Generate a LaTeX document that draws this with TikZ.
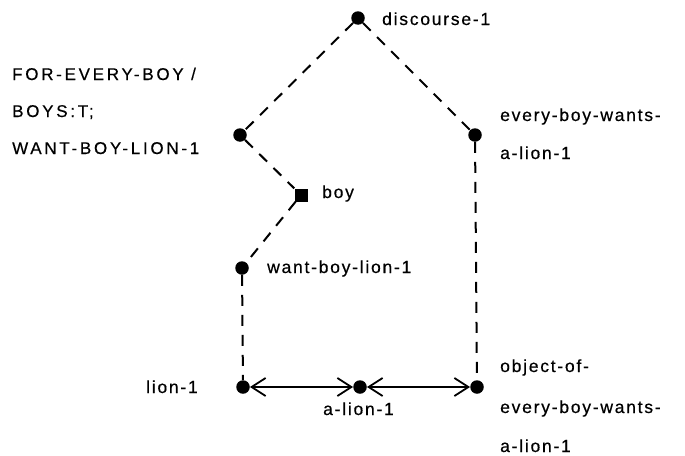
\documentclass[tikz,border=0pt]{standalone}
\usepackage{fontspec}
\setmainfont{Liberation Sans}[LetterSpace=10,FakeBold=0.5]
\newfontfamily\capsfont{Liberation Sans}[LetterSpace=16,FakeBold=0.5]
\usetikzlibrary{arrows.meta}
\begin{document}
\begin{tikzpicture}[x=1pt,y=-1pt,
  dot/.style={circle,fill=black,inner sep=0pt,minimum size=13.5pt},
  sq/.style={rectangle,fill=black,inner sep=0pt,minimum size=13pt},
  lbl/.style={anchor=base west,inner sep=0pt,font=\fontsize{17.5}{17.5}\selectfont},
  clbl/.style={lbl,font=\capsfont\fontsize{17}{17}\selectfont},
  dsh/.style={line width=2pt,dash pattern=on 11pt off 9pt},
  arr/.style={line width=1.4pt,{Straight Barb[length=14pt,width=18pt,line width=1.8pt]}-{Straight Barb[length=14pt,width=18pt,line width=1.8pt]}}
]
\useasboundingbox (0,0) rectangle (685,455);
\node[dot] (disc) at (358,18) {};
\node[dot] (left) at (240,135) {};
\node[dot] (right) at (475,135) {};
\node[sq] (boy) at (301,195) {};
\node[dot] (want) at (242,268) {};
\node[dot] (lion) at (243,387) {};
\node[dot] (alion) at (360,387) {};
\node[dot] (obj) at (477,387) {};

\node[lbl] (tdisc) at (382,25) {discourse-1};
\node[clbl] (t1) at (12,80) {FOR-EVERY-BOY /};
\node[clbl] (t2) at (12,117) {BOYS:T;};
\node[clbl] (t3) at (12,154) {WANT-BOY-LION-1};
\node[lbl] (tr1) at (500,121) {every-boy-wants-};
\node[lbl] (tr2) at (500,159) {a-lion-1};
\node[lbl] (tboy) at (322,198) {boy};
\node[lbl] (twant) at (267,273) {want-boy-lion-1};
\node[lbl] (tlion) at (146,393) {lion-1};
\node[lbl] (talion) at (323,415) {a-lion-1};
\node[lbl] (to1) at (500,372) {object-of-};
\node[lbl] (to2) at (500,413) {every-boy-wants-};
\node[lbl] (to3) at (500,452) {a-lion-1};

\draw[dsh] (disc) -- (left);
\draw[dsh] (disc) -- (right);
\draw[dsh] (left) -- (boy);
\draw[dsh] (boy) -- (want);
\draw[dsh] (want) -- (lion);
\draw[dsh] (right) -- (obj);
\draw[arr] (lion) -- (alion);
\draw[arr] (alion) -- (obj);
\end{tikzpicture}
\end{document}
